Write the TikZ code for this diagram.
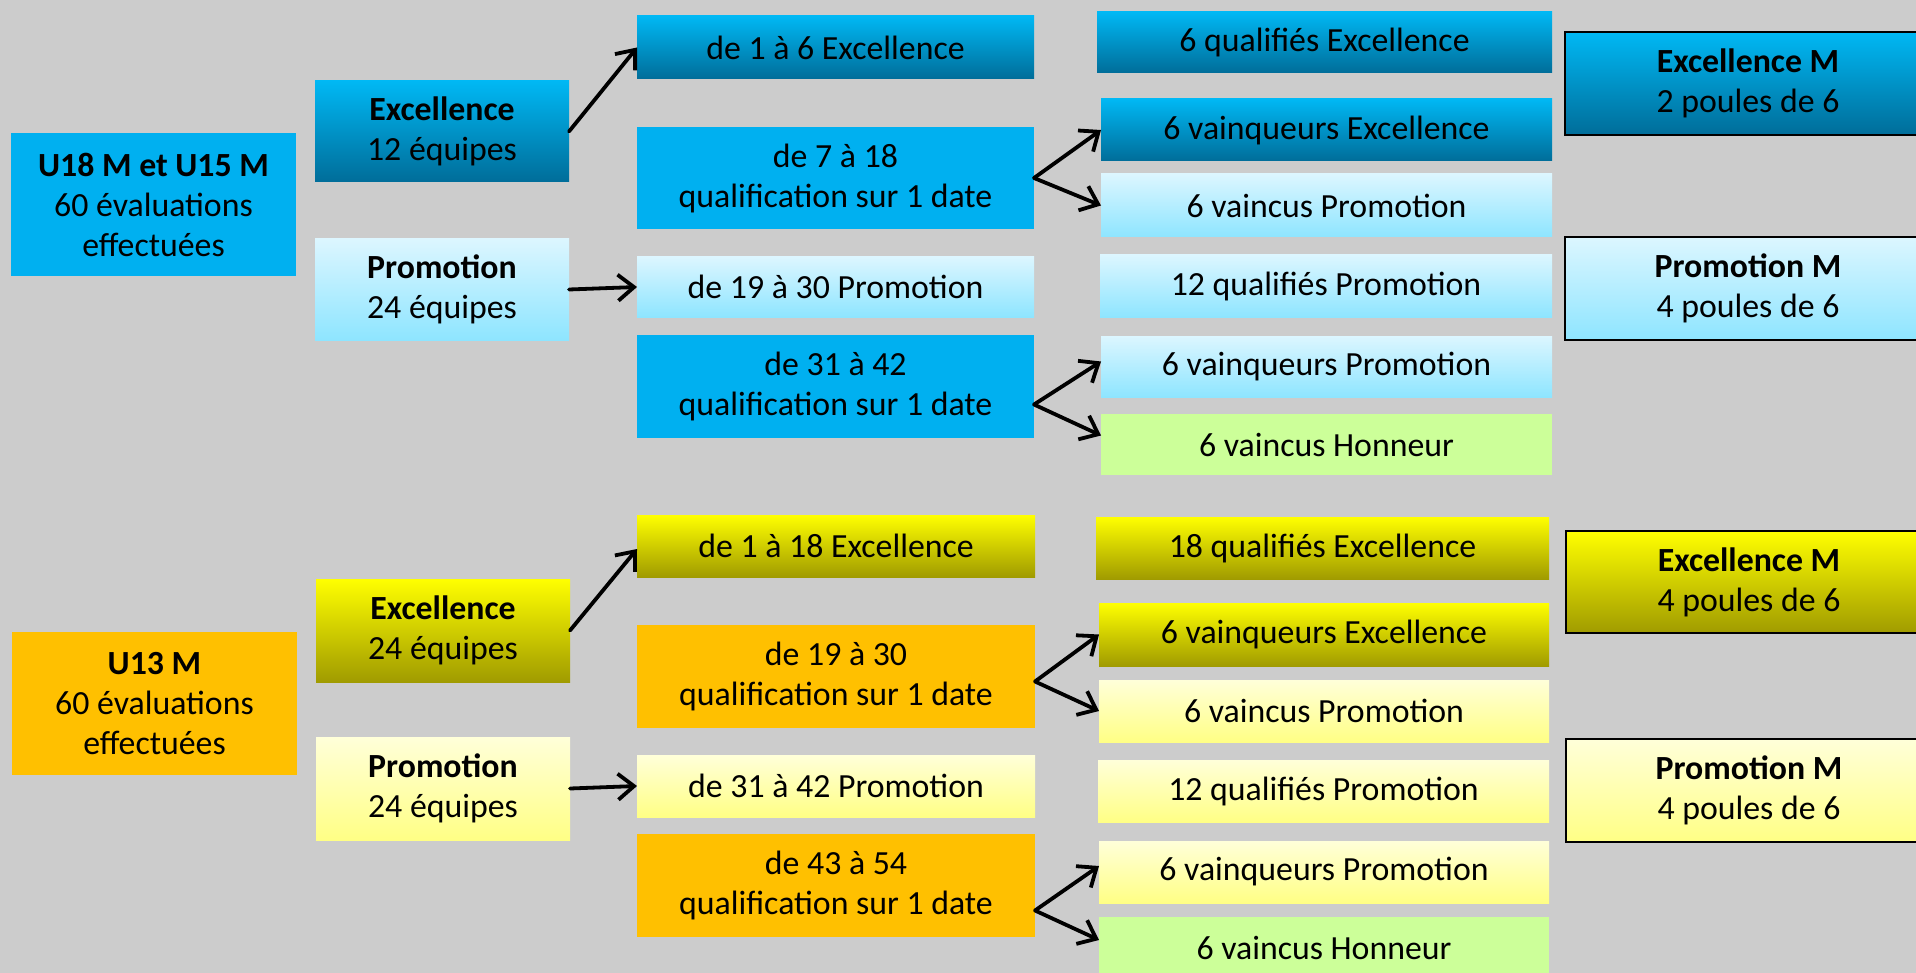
\documentclass[tikz,border=0pt]{standalone}
\usepackage{fontspec}
\setmainfont{Carlito}
\usetikzlibrary{arrows.meta,calc}
\definecolor{bg}{HTML}{CCCCCC}
\definecolor{blueTop}{HTML}{00B8F4}
\definecolor{blueBot}{HTML}{006D99}
\definecolor{blueSolid}{HTML}{00B0F0}
\definecolor{ltbTop}{HTML}{DCF6FF}
\definecolor{ltbBot}{HTML}{8EE5FF}
\definecolor{yTop}{HTML}{FFFF00}
\definecolor{yBot}{HTML}{A09B00}
\definecolor{orangeC}{HTML}{FFC000}
\definecolor{lyTop}{HTML}{FFFFD9}
\definecolor{lyBot}{HTML}{FFFF85}
\definecolor{greenC}{HTML}{CCFF99}
\tikzset{
 box/.style={rectangle, inner sep=0pt, outer sep=0pt, align=center, text=black, font=\fontsize{16.9}{20}\selectfont},
 sz/.style 2 args={minimum width=#1*0.5pt, minimum height=#2*0.5pt},
 dkblue/.style={top color=blueTop, bottom color=blueBot},
 solblue/.style={fill=blueSolid},
 ltblue/.style={top color=ltbTop, bottom color=ltbBot},
 ylw/.style={top color=yTop, bottom color=yBot},
 orng/.style={fill=orangeC},
 ltylw/.style={top color=lyTop, bottom color=lyBot},
 grn/.style={fill=greenC},
 mframe/.style={draw=black, line width=1.3pt},
 arr/.style={-{Straight Barb[length=8pt,width=13pt]}, line width=1.9pt, black, line cap=round},
}
\begin{document}
\begin{tikzpicture}[x=0.5pt,y=-0.5pt]
\path[use as bounding box] (0,0) rectangle (1916,973);
\fill[bg] (0,0) rectangle (1916,973);
\clip (0,0) rectangle (1916,973);

% ---------- top block ----------
\node[box,solblue,sz={285}{143}] (u18) at (153.5,204.5) {{\bfseries U18 M et U15 M}\\60 évaluations\\effectuées};
\node[box,dkblue,sz={254}{101}] (exc1) at (442,131.5) {{\bfseries Excellence}\\12 équipes};
\node[box,ltblue,sz={254}{101}] (pro1) at (442,289.5) {{\bfseries Promotion}\\24 équipes};

\node[box,dkblue,sz={397}{63}] (r1a) at (835.5,47.5) {de 1 à 6 Excellence};
\node[box,solblue,sz={397}{102}] (r1b) at (835.5,178) {de 7 à 18\\qualification sur 1 date};
\node[box,ltblue,sz={397}{60}] (r1c) at (835.5,287) {de 19 à 30 Promotion};
\node[box,solblue,sz={397}{103}] (r1d) at (835.5,386.5) {de 31 à 42\\qualification sur 1 date};

\node[box,dkblue,sz={455}{61}] (q1a) at (1324.5,42.5) {6 qualifiés Excellence};
\node[box,dkblue,sz={451}{62}] (q1b) at (1326.5,130) {6 vainqueurs Excellence};
\node[box,ltblue,sz={451}{63}] (q1c) at (1326.5,205.5) {6 vaincus Promotion};
\node[box,ltblue,sz={452}{62}] (q1d) at (1326,286) {12 qualifiés Promotion};
\node[box,ltblue,sz={451}{61}] (q1e) at (1326.5,366.5) {6 vainqueurs Promotion};
\node[box,grn,sz={451}{61}] (q1f) at (1326.5,444.5) {6 vaincus Honneur};

\node[box,dkblue,mframe,sz={366}{103}] (m1a) at (1748,83.5) {{\bfseries Excellence M}\\2 poules de 6};
\node[box,ltblue,mframe,sz={366}{103}] (m1b) at (1748,288.5) {{\bfseries Promotion M}\\4 poules de 6};

% ---------- bottom block ----------
\node[box,orng,sz={285}{143}] (u13) at (154.5,703.5) {{\bfseries U13 M}\\60 évaluations\\effectuées};
\node[box,ylw,sz={254}{103}] (exc2) at (443,630.5) {{\bfseries Excellence}\\24 équipes};
\node[box,ltylw,sz={254}{103}] (pro2) at (443,788.5) {{\bfseries Promotion}\\24 équipes};

\node[box,ylw,sz={398}{62}] (r2a) at (836,546) {de 1 à 18 Excellence};
\node[box,orng,sz={398}{103}] (r2b) at (836,676.5) {de 19 à 30\\qualification sur 1 date};
\node[box,ltylw,sz={398}{62}] (r2c) at (836,786) {de 31 à 42 Promotion};
\node[box,orng,sz={398}{103}] (r2d) at (836,885.5) {de 43 à 54\\qualification sur 1 date};

\node[box,ylw,sz={453}{62}] (q2a) at (1322.5,548) {18 qualifiés Excellence};
\node[box,ylw,sz={450}{63}] (q2b) at (1324,634.5) {6 vainqueurs Excellence};
\node[box,ltylw,sz={450}{62}] (q2c) at (1324,711) {6 vaincus Promotion};
\node[box,ltylw,sz={451}{62}] (q2d) at (1323.5,791) {12 qualifiés Promotion};
\node[box,ltylw,sz={450}{62}] (q2e) at (1324,872) {6 vainqueurs Promotion};
\node[box,grn,sz={450}{62}] (q2f) at (1324,948) {6 vaincus Honneur};

\node[box,ylw,mframe,sz={366}{102}] (m2a) at (1749,582) {{\bfseries Excellence M}\\4 poules de 6};
\node[box,ltylw,mframe,sz={366}{103}] (m2b) at (1749,790.5) {{\bfseries Promotion M}\\4 poules de 6};

% ---------- connectors ----------
\coordinate (f2) at ($(r1d.east)+(0,18)$);
\coordinate (f3) at ($(r2b.east)+(0,5)$);
\coordinate (f4) at ($(r2d.east)+(0,25)$);

\draw[arr] (exc1.east) -- (r1a.west);
\draw[arr] (pro1.east) -- (r1c.west);
\draw[arr] (r1b.east) -- (q1b.west);
\draw[arr] (r1b.east) -- (q1c.west);
\draw[arr] (f2) -- ($(q1e.west)+(0,-5)$);
\draw[arr] (f2) -- ($(q1f.west)+(0,-9)$);

\draw[arr] (exc2.east) -- ($(r2a.west)+(0,3)$);
\draw[arr] (pro2.east) -- (r2c.west);
\draw[arr] (f3) -- (q2b.west);
\draw[arr] (f3) -- (q2c.west);
\draw[arr] (f4) -- ($(q2e.west)+(0,-6)$);
\draw[arr] (f4) -- ($(q2f.west)+(0,-8)$);
\end{tikzpicture}
\end{document}
